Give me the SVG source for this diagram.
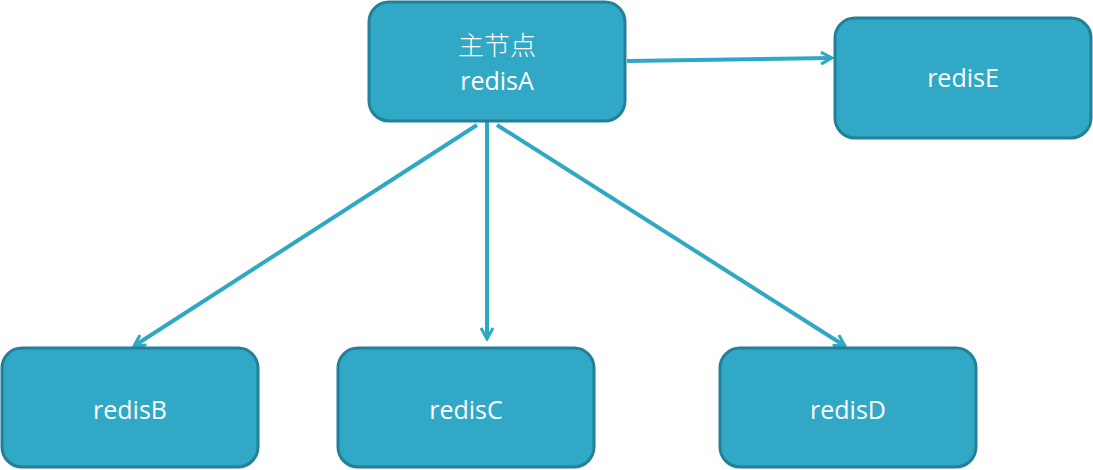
<svg xmlns="http://www.w3.org/2000/svg" width="1093" height="470" viewBox="0 0 1093 470">
<style>
.node rect{fill:#31A8C6;stroke:#23809A;stroke-width:3}
.node text{fill:#ffffff;font-family:"Open Sans","Liberation Sans",sans-serif;font-size:25px;text-anchor:middle}
.cjk{font-family:"Noto Sans CJK SC",sans-serif !important;font-weight:300;font-size:26px !important}
.conn line{stroke:#2FA8C4;stroke-width:4;fill:none}
</style>
<defs>
<marker id="arr" viewBox="0 0 14 14" refX="12" refY="7" markerWidth="14" markerHeight="14" markerUnits="userSpaceOnUse" orient="auto">
<path d="M1,1 L12,7 L1,13" fill="none" stroke="#2FA8C4" stroke-width="3"/>
</marker>
</defs>
<rect width="1093" height="470" fill="#ffffff"/>
<g class="conn">
<line x1="477" y1="125" x2="134" y2="346" marker-end="url(#arr)"/>
<line x1="487" y1="112" x2="487" y2="339" marker-end="url(#arr)"/>
<line x1="497" y1="125" x2="845" y2="346" marker-end="url(#arr)"/>
<line x1="627" y1="61" x2="832" y2="58" marker-end="url(#arr)"/>
</g>
<g id="redisA" class="node">
<rect x="369" y="2" width="256" height="119" rx="20"/>
<text x="497" y="55" class="cjk">主节点</text>
<text x="497" y="90">redisA</text>
</g>
<g id="redisE" class="node">
<rect x="835" y="18" width="256" height="120" rx="20"/>
<text x="963" y="87">redisE</text>
</g>
<g id="redisB" class="node">
<rect x="2" y="348" width="256" height="119" rx="20"/>
<text x="130" y="419">redisB</text>
</g>
<g id="redisC" class="node">
<rect x="338" y="348" width="256" height="119" rx="20"/>
<text x="466" y="419">redisC</text>
</g>
<g id="redisD" class="node">
<rect x="720" y="348" width="256" height="119" rx="20"/>
<text x="848" y="419">redisD</text>
</g>
</svg>
